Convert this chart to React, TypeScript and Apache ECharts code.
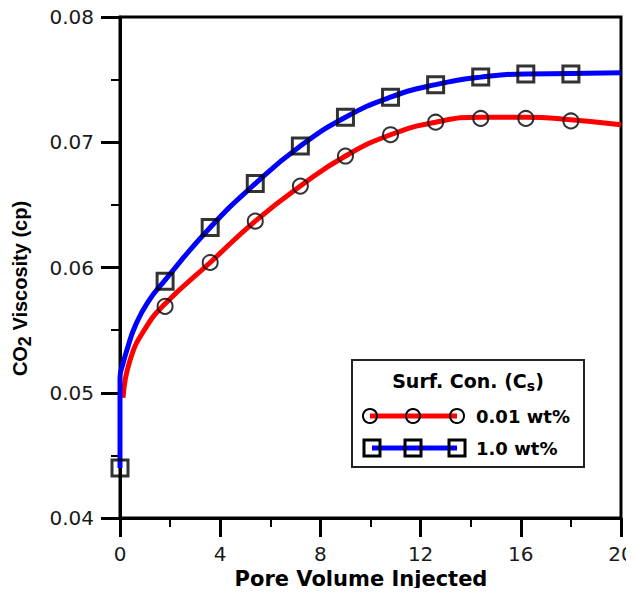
import React, { useEffect, useRef } from "react";
import * as echarts from "echarts";

// Curves (Pore Volume Injected, CO2 viscosity cp)
const redCurve: [number, number][] = [
  [0.12, 0.0496], [0.4, 0.0526], [1.0, 0.0551], [1.8, 0.0571], [3.6, 0.0604],
  [5.4, 0.0637], [7.2, 0.0665], [9.0, 0.0689], [10.8, 0.0706], [12.6, 0.0716],
  [14.4, 0.0720], [16.2, 0.0720], [18.0, 0.0718], [20.0, 0.0714],
];
const blueCurve: [number, number][] = [
  [0, 0.0440], [0, 0.0512], [0.13, 0.0524], [0.32, 0.0537], [0.6, 0.0553],
  [1.1, 0.0572], [1.8, 0.0590], [3.6, 0.0632], [5.4, 0.0667], [7.2, 0.0697],
  [9.0, 0.0720], [10.8, 0.0736], [12.6, 0.0746], [14.4, 0.0752], [16.2, 0.07545],
  [18.0, 0.07548], [20.0, 0.07555],
];
const redMarkers: [number, number][] = [
  [1.8, 0.0569], [3.6, 0.0604], [5.4, 0.0637], [7.2, 0.0665], [9.0, 0.0689],
  [10.8, 0.0706], [12.6, 0.0716], [14.4, 0.0719], [16.2, 0.0719], [18.0, 0.0717],
];
const blueMarkers: [number, number][] = [
  [0, 0.0440], [1.8, 0.0589], [3.6, 0.0632], [5.4, 0.0667], [7.2, 0.0697],
  [9.0, 0.0720], [10.8, 0.0736], [12.6, 0.0746], [14.4, 0.0752], [16.2, 0.07545],
  [18.0, 0.07545],
];
const legendTitle = "Surf. Con. (C";
const legendLabels = ["0.01 wt%", "1.0 wt%"];
const xName = "Pore Volume Injected";

const TICK_FONT = "'DejaVu Sans', sans-serif";

export default function App() {
  const ref = useRef<HTMLDivElement>(null);
  useEffect(() => {
    if (!ref.current) return;
    const chart = echarts.init(ref.current, null, { renderer: "svg" });
    const lx = 352, ly = 360, lw = 232, lh = 107;
    const row1 = 416, row2 = 448;
    chart.setOption({
      animation: false,
      backgroundColor: "#fff",
      grid: {
        left: 120, right: 13, top: 17, bottom: 78,
        show: true, borderColor: "#000", borderWidth: 3,
        containLabel: false, outerBoundsMode: "none",
      },
      xAxis: {
        type: "value", min: 0, max: 20, interval: 4,
        name: xName, nameLocation: "middle", nameGap: 50,
        nameTextStyle: {
          fontFamily: TICK_FONT, fontWeight: "bold", fontSize: 21, color: "#000",
          padding: [0, 19, 0, 0],
        },
        axisLine: { show: true, lineStyle: { color: "#000", width: 3 } },
        axisTick: { show: true, inside: false, length: 19, lineStyle: { color: "#000", width: 3 } },
        minorTick: { show: true, splitNumber: 2, length: 9, lineStyle: { color: "#000", width: 2 } },
        splitLine: { show: false },
        axisLabel: { fontFamily: TICK_FONT, fontSize: 20, color: "#1a1a1a", margin: 26 },
      },
      yAxis: {
        type: "value", min: 0.04, max: 0.08, interval: 0.01,
        name: "{a|CO}{s|2}{a| Viscosity (cp)}", nameLocation: "middle", nameGap: 86,
        nameTextStyle: {
          fontFamily: "'Liberation Sans', Arial, sans-serif", fontWeight: "bold", fontSize: 20, color: "#000",
          padding: [0, 42, 0, 0],
          rich: {
            a: { fontFamily: "'Liberation Sans', Arial, sans-serif", fontWeight: "bold", fontSize: 20, color: "#000" },
            s: { fontFamily: "'Liberation Sans', Arial, sans-serif", fontWeight: "bold", fontSize: 18, color: "#000", padding: [10, 0, 0, 0] },
          },
        },
        axisLine: { show: true, lineStyle: { color: "#000", width: 3 } },
        axisTick: { show: true, inside: false, length: 19, lineStyle: { color: "#000", width: 3 } },
        minorTick: { show: true, splitNumber: 2, length: 9, lineStyle: { color: "#000", width: 2 } },
        splitLine: { show: false },
        axisLabel: {
          fontFamily: TICK_FONT, fontSize: 20, color: "#1a1a1a", margin: 26,
          formatter: (v: number) => v.toFixed(2),
        },
      },
      series: [
        {
          type: "line", name: legendLabels[0], data: redCurve, smooth: 0.5, showSymbol: false,
          lineStyle: { color: "#ff0000", width: 5 }, z: 2,
        },
        {
          type: "line", name: legendLabels[1], data: blueCurve, smooth: 0.5, showSymbol: false,
          lineStyle: { color: "#0000ff", width: 5 }, z: 3,
        },
        {
          type: "scatter", data: redMarkers, symbol: "circle", symbolSize: 15, clip: false,
          itemStyle: { color: "rgba(0,0,0,0)", borderColor: "#000", borderWidth: 2 }, z: 4,
        },
        {
          type: "scatter", data: blueMarkers, symbol: "rect", symbolSize: 16, clip: false,
          itemStyle: { color: "rgba(0,0,0,0)", borderColor: "#000", borderWidth: 3 }, z: 4,
        },
      ],
      graphic: [
        {
          type: "group", z: 100,
          children: [
            { type: "rect", shape: { x: lx, y: ly, width: lw, height: lh }, style: { fill: "#fff", stroke: "#222", lineWidth: 2 } },
            {
              type: "text", x: lx + lw / 2, y: 381,
              style: {
                text: "{a|" + legendTitle + "}{s|s}{a|)}", align: "center", verticalAlign: "middle",
                rich: {
                  a: { fontFamily: TICK_FONT, fontWeight: "bold", fontSize: 19, fill: "#000" },
                  s: { fontFamily: TICK_FONT, fontWeight: "bold", fontSize: 14, fill: "#000", padding: [9, 0, 0, 0] },
                },
              },
            },
            { type: "line", shape: { x1: 370, y1: row1, x2: 457, y2: row1 }, style: { stroke: "#ff0000", lineWidth: 5 } },
            { type: "circle", shape: { cx: 370, cy: row1, r: 7 }, style: { fill: "none", stroke: "#000", lineWidth: 2 } },
            { type: "circle", shape: { cx: 413, cy: row1, r: 7 }, style: { fill: "none", stroke: "#000", lineWidth: 2 } },
            { type: "circle", shape: { cx: 457, cy: row1, r: 7 }, style: { fill: "none", stroke: "#000", lineWidth: 2 } },
            {
              type: "text", x: 476, y: row1,
              style: { text: legendLabels[0], fontFamily: TICK_FONT, fontWeight: "bold", fontSize: 18, fill: "#000", align: "left", verticalAlign: "middle" },
            },
            { type: "line", shape: { x1: 372, y1: row2, x2: 457, y2: row2 }, style: { stroke: "#0000ff", lineWidth: 5 } },
            { type: "rect", shape: { x: 364, y: row2 - 8, width: 16, height: 16 }, style: { fill: "none", stroke: "#000", lineWidth: 3 } },
            { type: "rect", shape: { x: 405, y: row2 - 8, width: 16, height: 16 }, style: { fill: "none", stroke: "#000", lineWidth: 3 } },
            { type: "rect", shape: { x: 449, y: row2 - 8, width: 16, height: 16 }, style: { fill: "none", stroke: "#000", lineWidth: 3 } },
            {
              type: "text", x: 476, y: row2,
              style: { text: legendLabels[1], fontFamily: TICK_FONT, fontWeight: "bold", fontSize: 18, fill: "#000", align: "left", verticalAlign: "middle" },
            },
          ],
        },
      ],
    });
    return () => chart.dispose();
  }, []);
  return <div ref={ref} style={{ width: 634, height: 596, margin: -8 }} />;
}
